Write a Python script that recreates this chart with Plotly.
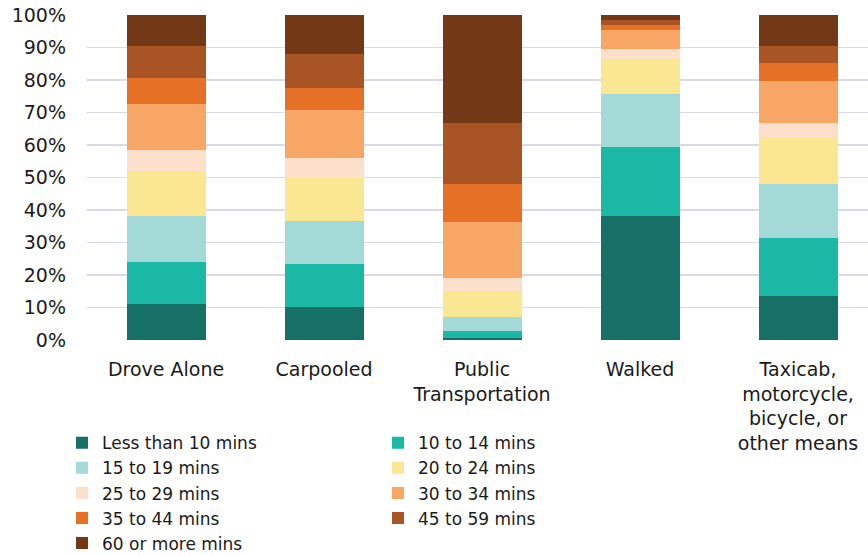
import plotly.graph_objects as go

categories = ["Drove Alone", "Carpooled", "Public<br>Transportation", "Walked",
              "Taxicab,<br>motorcycle,<br>bicycle, or<br>other means"]

series_names = ["Less than 10 mins", "10 to 14 mins", "15 to 19 mins", "20 to 24 mins",
                "25 to 29 mins", "30 to 34 mins", "35 to 44 mins", "45 to 59 mins",
                "60 or more mins"]

less_than_10 = [11.1, 10.1, 0.7, 38.2, 13.6]
m10_14 = [12.8, 13.4, 2.1, 21.2, 17.7]
m15_19 = [14.3, 13.2, 4.4, 16.3, 16.8]
m20_24 = [13.8, 13.2, 7.9, 10.8, 14.3]
m25_29 = [6.4, 6.1, 3.9, 3.0, 4.4]
m30_34 = [14.3, 14.8, 17.2, 5.9, 12.9]
m35_44 = [7.9, 6.8, 11.9, 1.5, 5.4]
m45_59 = [9.9, 10.5, 18.7, 1.6, 5.4]
m60_plus = [9.5, 11.9, 33.2, 1.5, 9.5]

series_values = [less_than_10, m10_14, m15_19, m20_24, m25_29, m30_34, m35_44, m45_59, m60_plus]

colors = ["#177066", "#1BB8A6", "#A3D9D6", "#FAE792", "#FDE0CC",
          "#F7A665", "#E67026", "#A85425", "#733816"]

y_tickvals = [0, 10, 20, 30, 40, 50, 60, 70, 80, 90, 100]
y_ticktext = ["0%", "10%", "20%", "30%", "40%", "50%", "60%", "70%", "80%", "90%", "100%"]

FONT = "DejaVu Sans"

fig = go.Figure()
for name, vals, col in zip(series_names, series_values, colors):
    fig.add_trace(go.Bar(
        x=list(range(len(categories))), y=vals, name=name,
        marker=dict(color=col, line=dict(width=0)),
        width=0.5,
    ))

fig.update_layout(
    barmode="stack",
    width=868, height=555,
    margin=dict(l=87, r=0, t=15, b=215, autoexpand=False),
    paper_bgcolor="white", plot_bgcolor="white",
    font=dict(family=FONT, size=18, color="#1a1a1a"),
    xaxis=dict(
        tickmode="array", tickvals=list(range(len(categories))), ticktext=categories,
        range=[-0.5, 4.443], showgrid=False, zeroline=False, showline=False,
        ticks="", ticklabelstandoff=16, tickfont=dict(size=19, family=FONT),
        automargin=False,
    ),
    yaxis=dict(
        range=[0, 100], tickmode="array", tickvals=y_tickvals, ticktext=y_ticktext,
        showgrid=True, gridcolor="#DADAE4", gridwidth=1.5, zeroline=False,
        showline=False, ticks="", ticklabelstandoff=20, ticklabeloverflow="allow",
        tickfont=dict(size=19, family=FONT), automargin=False,
    ),
    legend=dict(
        orientation="h", x=-0.032, xanchor="left", y=-0.262, yanchor="top",
        entrywidth=271, entrywidthmode="pixels",
        font=dict(size=17, family=FONT, color="#1a1a1a"),
        traceorder="normal", itemclick=False, bgcolor="rgba(0,0,0,0)",
    ),
    showlegend=True,
    hovermode=False,
)

fig.write_html(
    "out.html",
    config={"displayModeBar": False, "staticPlot": True},
    post_script="document.body.style.margin='0';document.body.style.overflow='hidden';",
)
